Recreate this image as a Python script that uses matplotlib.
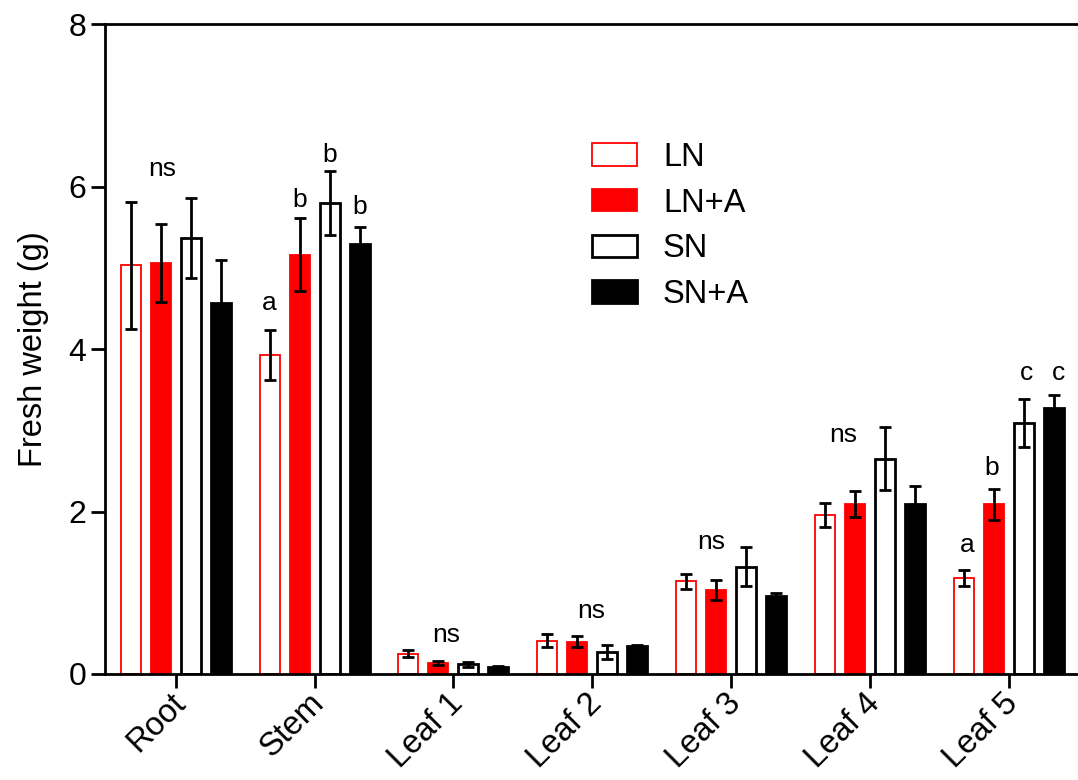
import numpy as np
import matplotlib
matplotlib.use("Agg")
import matplotlib.pyplot as plt
from matplotlib.patches import Patch
from matplotlib.transforms import ScaledTranslation

plt.rcParams['font.family'] = ['Liberation Sans', 'DejaVu Sans']

# Tissues and treatments
tissues = ["Root", "Stem", "Leaf 1", "Leaf 2", "Leaf 3", "Leaf 4", "Leaf 5"]
treatments = ["LN", "LN+A", "SN", "SN+A"]

# Mean fresh weight (g) per treatment, one value per tissue
ln_mean = [5.03, 3.93, 0.25, 0.41, 1.14, 1.96, 1.18]
lna_mean = [5.06, 5.16, 0.13, 0.40, 1.03, 2.09, 2.09]
sn_mean = [5.37, 5.80, 0.12, 0.27, 1.32, 2.65, 3.09]
sna_mean = [4.57, 5.29, 0.085, 0.34, 0.96, 2.09, 3.27]

# Error (SD) per treatment
ln_err = [0.78, 0.31, 0.04, 0.08, 0.095, 0.145, 0.10]
lna_err = [0.48, 0.45, 0.025, 0.07, 0.125, 0.16, 0.19]
sn_err = [0.49, 0.39, 0.03, 0.09, 0.24, 0.39, 0.29]
sna_err = [0.53, 0.21, 0.012, 0.012, 0.04, 0.22, 0.17]

# Significance labels: (tissue index, x shift in category units, y, text)
sig_labels = [
    (0, -0.10, 6.22, "ns"),
    (1, -0.324, 4.57, "a"),
    (1, -0.108, 5.83, "b"),
    (1, 0.108, 6.39, "b"),
    (1, 0.324, 5.75, "b"),
    (2, -0.05, 0.48, "ns"),
    (3, -0.01, 0.78, "ns"),
    (4, -0.14, 1.63, "ns"),
    (5, -0.19, 2.94, "ns"),
    (6, -0.30, 1.59, "a"),
    (6, -0.12, 2.54, "b"),
    (6, 0.13, 3.70, "c"),
    (6, 0.36, 3.70, "c"),
]

means = [ln_mean, lna_mean, sn_mean, sna_mean]
errs = [ln_err, lna_err, sn_err, sna_err]
faces = ["white", "#FF0000", "white", "black"]
edges = ["#FF0000", "#FF0000", "black", "black"]
edge_lw = [1.3, 1.3, 2.0, 2.0]

fig = plt.figure(figsize=(10.78, 7.8), dpi=100)
ax = fig.add_axes([0.0974, 0.1359, 0.9026, 0.8331])

x = np.arange(len(tissues))
width = 0.144
offsets = [-0.324, -0.108, 0.108, 0.324]

for i in range(4):
    ax.bar(x + offsets[i], means[i], width, color=faces[i],
           edgecolor=edges[i], linewidth=edge_lw[i], zorder=2)
    ax.errorbar(x + offsets[i], means[i], yerr=errs[i], fmt="none",
                ecolor="black", elinewidth=2, capsize=4.5, capthick=2,
                zorder=3)

for gi, dx, y, txt in sig_labels:
    ax.text(gi + dx, y, txt, ha="center", va="center", fontsize=19)

ax.set_xlim(-0.51, 6.5)
ax.set_ylim(0, 8)
ax.set_yticks([0, 2, 4, 6, 8])
ax.set_xticks(x)
ax.set_xticklabels(tissues, rotation=45, ha="right", rotation_mode="anchor",
                   fontsize=23.5)
ax.tick_params(axis="y", labelsize=23, width=2, length=10, direction="out")
ax.tick_params(axis="x", width=2, length=10, direction="out", pad=2)
# nudge the slanted category labels so they end right at their ticks
shift = ScaledTranslation(-6 / 100, 3 / 100, fig.dpi_scale_trans)
for lab in ax.get_xticklabels():
    lab.set_transform(lab.get_transform() + shift)
ax.set_ylabel("Fresh weight (g)", fontsize=23.5, labelpad=14)

for s in ["left", "bottom", "top"]:
    ax.spines[s].set_linewidth(2)
ax.spines["right"].set_visible(False)

handles = [Patch(facecolor=faces[i], edgecolor=edges[i],
                 linewidth=edge_lw[i]) for i in range(4)]
ax.legend(handles, treatments, loc="upper left",
          bbox_to_anchor=(0.549, 0.818), bbox_transform=fig.transFigure,
          frameon=False, fontsize=23.5, handlelength=1.38, handleheight=0.67,
          handletextpad=0.8, labelspacing=0.45, borderpad=0,
          borderaxespad=0)

fig.savefig("out.png", dpi=100)
